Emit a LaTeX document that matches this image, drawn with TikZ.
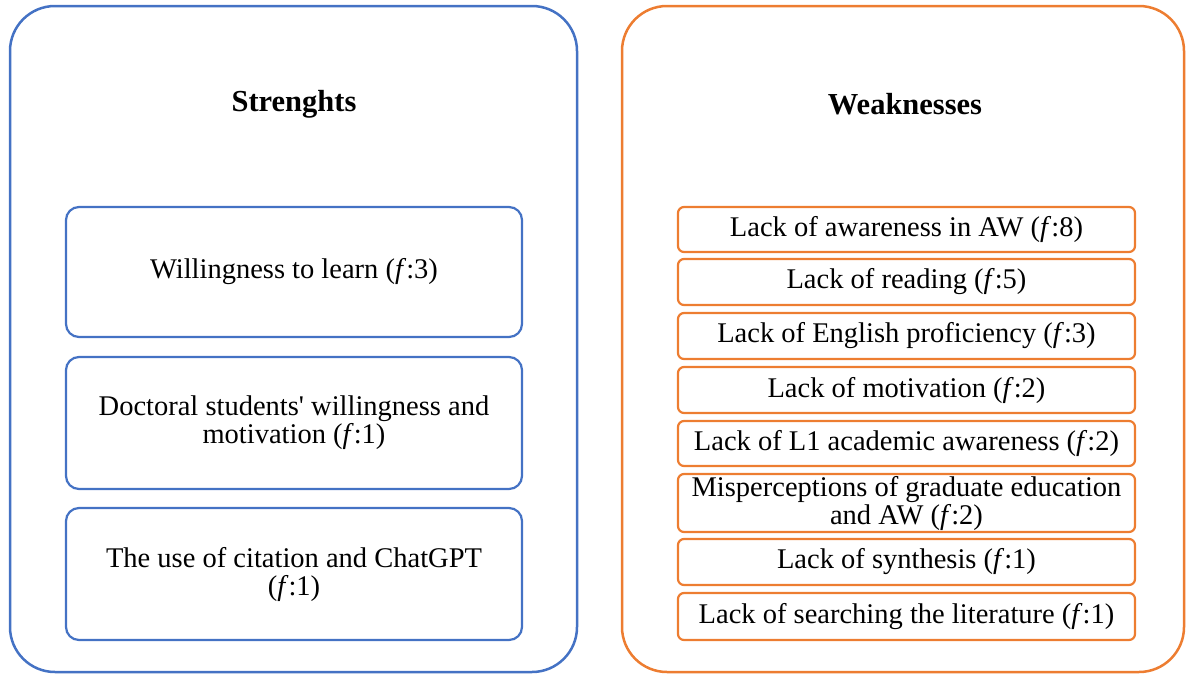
\documentclass[tikz,border=0pt]{standalone}
\usepackage{fontspec}
\setmainfont{Liberation Serif}
\definecolor{swblue}{HTML}{4472C4}
\definecolor{sworange}{HTML}{ED7D31}
\tikzset{
  panel/.style={draw, line width=2.5pt, rounded corners=45pt},
  sbox/.style={draw=swblue, line width=2.2pt, rounded corners=13pt, minimum width=456pt, align=center, inner sep=0pt,
    font=\fontsize{28.5}{28}\selectfont},
  wbox/.style={draw=sworange, line width=2.2pt, rounded corners=6pt, minimum width=457pt, align=center, inner sep=0pt,
    font=\fontsize{28.5}{28}\selectfont},
  title/.style={font=\fontsize{30.5}{34}\selectfont\bfseries}
}
\newcommand{\freq}[1]{(\textit{f}:#1)}
\begin{document}
\begin{tikzpicture}[x=1pt,y=-1pt]
\useasboundingbox (0,0) rectangle (1186,675);
% outer panels
\draw[panel, swblue] (10,6) rectangle (577,672);
\draw[panel, sworange] (622,6) rectangle (1184,672);
% titles
\node[title] (st) at (294,104) {Strenghts};
\node[title] (wt) at (905,104) {Weaknesses};
% strengths
\node[sbox, minimum height=130pt] (s1) at (294,272) {Willingness to learn \freq{3}};
\node[sbox, minimum height=132pt] (s2) at (294,423) {Doctoral students\textquotesingle{} willingness and\\motivation \freq{1}};
\node[sbox, minimum height=132pt] (s3) at (294,574) {The use of citation and ChatGPT\\\freq{1}};
% weaknesses
\node[wbox, minimum height=45pt] (w1) at (906.5,229.5) {Lack of awareness in AW \freq{8}};
\node[wbox, minimum height=46pt] (w2) at (906.5,282) {Lack of reading \freq{5}};
\node[wbox, minimum height=46pt] (w3) at (906.5,336) {Lack of English proficiency \freq{3}};
\node[wbox, minimum height=46pt] (w4) at (906.5,390) {Lack of motivation \freq{2}};
\node[wbox, minimum height=45pt] (w5) at (906.5,443.5) {Lack of L1 academic awareness \freq{2}};
\node[wbox, minimum height=58pt] (w6) at (906.5,503) {Misperceptions of graduate education\\and AW \freq{2}};
\node[wbox, minimum height=46pt] (w7) at (906.5,562) {Lack of synthesis \freq{1}};
\node[wbox, minimum height=47pt] (w8) at (906.5,616.5) {Lack of searching the literature \freq{1}};
\end{tikzpicture}
\end{document}
